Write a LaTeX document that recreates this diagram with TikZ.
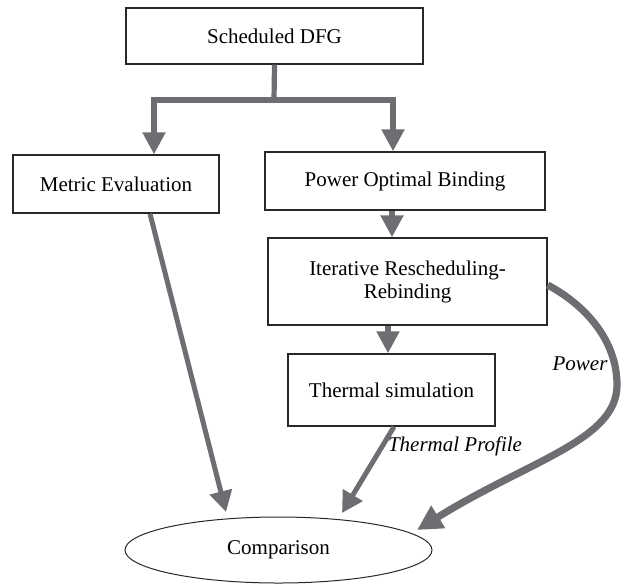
\documentclass[tikz,border=0pt]{standalone}
\usepackage{fontspec}
\setmainfont{Liberation Serif}
\usetikzlibrary{arrows.meta,shapes.geometric}
\definecolor{arrgray}{RGB}{109,110,113}
\definecolor{boxline}{RGB}{40,40,40}
\begin{document}
\begin{tikzpicture}[x=0.5pt,y=-0.5pt,
  font=\fontsize{10.5}{11.5}\selectfont,
  box/.style={draw=boxline,line width=0.7pt,rectangle,inner sep=0pt,align=center},
  conn/.style={draw=arrgray,line width=2.6pt},
  arr/.style={conn,-{Triangle[width=11pt,length=11pt]}},
  thinarr/.style={draw=arrgray,line width=2.5pt,-{Triangle[width=11pt,length=10.5pt]}},
  powerarr/.style={draw=arrgray,line width=3.6pt,-{Triangle[width=12.5pt,length=12.5pt]}},
  lbl/.style={font=\fontsize{10.5}{11.5}\selectfont\itshape,inner sep=0pt}]
\useasboundingbox (0,0) rectangle (625,584);
\node[box,minimum width=148.5pt,minimum height=28pt] (dfg) at (274.5,36) {Scheduled DFG};
\node[box,minimum width=103pt,minimum height=29pt] (metric) at (116,184) {Metric Evaluation};
\node[box,minimum width=140pt,minimum height=29pt] (pob) at (405,181) {Power Optimal Binding};
\node[box,minimum width=139.5pt,minimum height=43.5pt] (irr) at (407.5,281.5) {Iterative Rescheduling-\\Rebinding};
\node[box,minimum width=103.5pt,minimum height=36pt] (thermal) at (391.5,390) {Thermal simulation};
\node[draw=boxline,line width=0.5pt,ellipse,inner sep=0pt,minimum width=153.5pt,minimum height=33pt] (comp) at (278.5,550) {Comparison};
\node[lbl] (tp) at (455,446) {Thermal Profile};
\node[lbl] (pw) at (580,364) {Power};
\coordinate (split) at (274,100);
\draw[conn] (dfg.south) -- (split);
\draw[arr] (split) -| ([xshift=19pt]metric.north);
\draw[arr] (split) -| ([xshift=-6pt]pob.north);
\draw[arr] ([xshift=-6.5pt]pob.south) -- ([xshift=-7.75pt]irr.north);
\draw[arr] ([xshift=-9.75pt]irr.south) -- ([xshift=-1.75pt]thermal.north);
\draw[thinarr] ([xshift=17pt]metric.south) -- ([shift={(-52.5,-38)}]comp.center);
\draw[thinarr] ([xshift=1.25pt]thermal.south) -- ([shift={(63.5,-37)}]comp.center);
\draw[powerarr] ([yshift=-1.75pt]irr.east) .. controls (585,305) and (617,340) .. (617,385) .. controls (617,440) and (530,460) .. ([shift={(138.5,-20)}]comp.center);
\end{tikzpicture}
\end{document}
